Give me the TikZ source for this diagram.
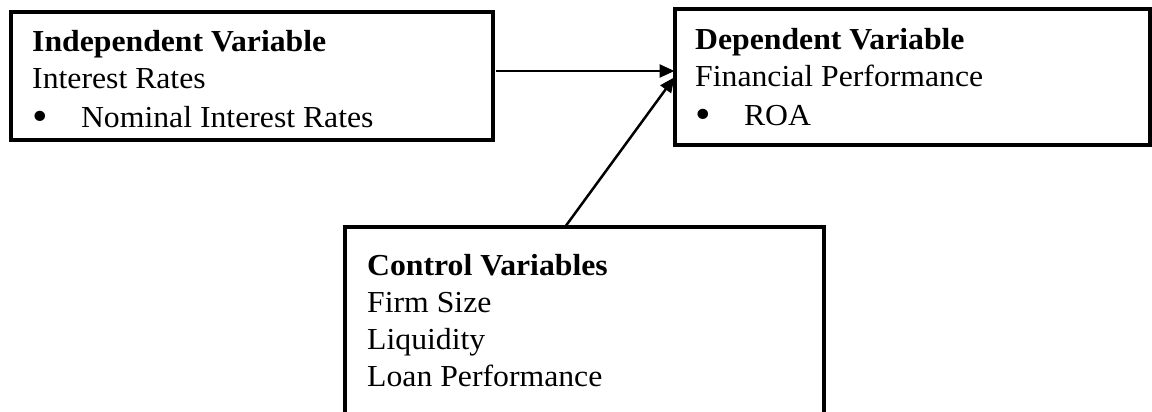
\documentclass[tikz,border=0pt]{standalone}
\usepackage{fontspec}
\usepackage{graphicx}
\setmainfont{Liberation Serif}
\usetikzlibrary{arrows.meta, calc, positioning}
\newcommand{\itembullet}{\makebox[47pt][l]{\raisebox{-3pt}{\scalebox{1.4}{\textbullet}}}}
\newcommand{\boxlines}[1]{\scalebox{1.04}[1]{\parbox[t]{420pt}{#1}}}

\begin{document}
\begin{tikzpicture}[x=1pt, y=-1pt,
    varbox/.style={draw, line width=4pt, inner sep=0pt, outer sep=0pt, anchor=north west},
    vartext/.style={anchor=base west, inner sep=0pt, font=\fontsize{30.5pt}{37pt}\selectfont},
    link/.style={-{Triangle[length=15pt, width=13pt]}, line width=2.5pt}]
    \useasboundingbox (0,0) rectangle (1152,412);

    % Boxes
    \node[varbox, minimum width=482pt, minimum height=127.5pt] (indep) at (10.5,12) {};
    \node[varbox, minimum width=475pt, minimum height=135.5pt] (dep) at (674.5,9.5) {};
    \node[varbox, minimum width=479.5pt, minimum height=191pt] (ctrl) at (344.5,227) {};

    % Box texts
    \node[vartext] (indeptxt) at ([xshift=21.5pt, yshift=-40pt]indep.north west)
        {\boxlines{\textbf{Independent Variable}\\ Interest Rates\\[2pt] \itembullet Nominal Interest Rates}};
    \node[vartext] (deptxt) at ([xshift=20.5pt, yshift=-40.5pt]dep.north west)
        {\boxlines{\textbf{Dependent Variable}\\ Financial Performance\\[2pt] \itembullet ROA}};
    \node[vartext] (ctrltxt) at ([xshift=22.5pt, yshift=-48pt]ctrl.north west)
        {\boxlines{\textbf{Control Variables}\\ Firm Size\\ Liquidity\\ Loan Performance}};

    % Links
    \draw[link, shorten <=3pt] ([yshift=4.75pt]indep.east) -- ([yshift=4.75pt]indep.east -| dep.west);
    \draw[link] ([xshift=-19.25pt]ctrl.north) -- (dep.west);
\end{tikzpicture}
\end{document}
